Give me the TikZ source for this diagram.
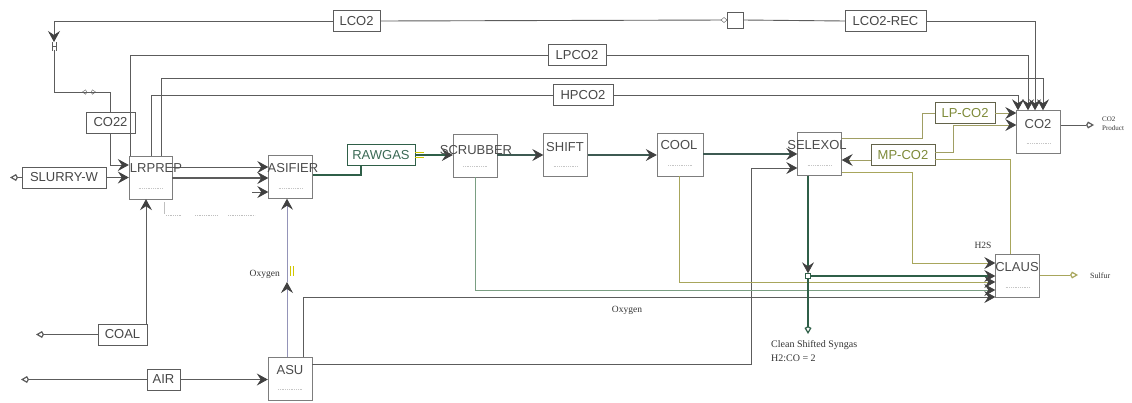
\documentclass[tikz,border=0pt]{standalone}
\usepackage{fontspec}
\setmainfont{Liberation Serif}
\setsansfont{Liberation Sans}
\usepackage{tikz}
\usetikzlibrary{positioning,arrows.meta}
\usepackage{xcolor}
\definecolor{lnGray}{HTML}{5C5C5C}
\definecolor{lnGreen}{HTML}{2F5F48}
\definecolor{lnMain}{HTML}{3E5A52}
\definecolor{lnSage}{HTML}{7A9E82}
\definecolor{lnOlive}{HTML}{A8A65C}
\definecolor{lnLilac}{HTML}{9494B8}
\definecolor{txOlive}{HTML}{7E8A38}
\definecolor{txGreen}{HTML}{3B6A55}
\tikzset{
  blk/.style={draw=lnGray!80,fill=white,minimum width=44pt,minimum height=43pt,inner sep=0pt},
  blktxt/.style={font=\sffamily\fontsize{13}{13}\selectfont,text=black!70,inner sep=0pt},
  strm/.style={draw=lnGray,fill=white,minimum height=21pt,inner xsep=4pt,inner ysep=0pt,font=\sffamily\fontsize{13}{13}\selectfont,text=black!72},
  pipe/.style={draw=lnGray,line width=0.9pt},
  note/.style={font=\fontsize{9.5}{11}\selectfont,inner sep=0pt,text=black!80},
  chev/.style={-{Stealth[length=11pt,width=12pt,inset=4pt,line width=0.8pt,color=lnGray!70!black]}},
  feed/.style={{Kite[open,length=8pt,width=7pt,line width=1.2pt]}-},
  prod/.style={-{Kite[open,length=8pt,width=7pt,line width=1.2pt]}},
}

\begin{document}
\begin{tikzpicture}[x=1pt,y=-1pt]
\useasboundingbox (0,0) rectangle (1132,402);
\node[blk,minimum width=43pt] (lrprep) at (150.5,177.5) {};
\node[blk] (gasif) at (290.5,177) {};
\node[blk] (scrub) at (475,155.5) {};
\node[blk] (shift) at (565.5,155) {};
\node[blk,minimum width=46pt] (cool) at (680,154.5) {};
\node[blk] (selexol) at (819.5,154) {};
\node[blk] (co2) at (1038.5,132) {};
\node[blk] (claus) at (1017.5,276) {};
\node[blk] (asu) at (290,378.5) {};
\foreach \b in {lrprep,gasif,scrub,shift,cool,selexol,co2,claus,asu}
  \draw[gray!45,densely dotted,line width=0.8pt] ([xshift=-12pt,yshift=-11pt]\b.center) -- ([xshift=12pt,yshift=-11pt]\b.center);

\node[strm,minimum width=47pt] (lco2) at (356.5,21) {LCO2};
\node[draw=lnGray,fill=white,minimum size=16pt,inner sep=0pt] (valve) at (735,20) {};
\node[strm,minimum width=81pt] (lco2rec) at (885.5,21) {LCO2-REC};
\node[strm,minimum width=58pt] (lpco2) at (577,55) {LPCO2};
\node[strm,minimum width=60pt] (hpco2) at (583,95) {HPCO2};
\node[strm,minimum width=49pt] (co22) at (110.5,122.5) {CO22};
\node[strm,minimum width=84pt] (slurry) at (64,177.5) {SLURRY-W};
\node[strm,minimum width=68pt,text=txGreen,draw=lnGreen] (rawgas) at (381,155) {RAWGAS};
\node[strm,minimum width=60pt,text=txOlive,draw=lnGray!80!olive] (lpbox) at (965,113) {LP-CO2};
\node[strm,minimum width=64pt,text=txOlive,draw=lnGray!80!olive] (mpbox) at (903,155) {MP-CO2};
\node[strm,minimum width=49pt] (coal) at (122.5,334.5) {COAL};
\node[strm,minimum width=33pt] (air) at (163.5,379.5) {AIR};

\coordinate (lco2in) at (54,42);
\coordinate (lco2out) at (54,50);
\coordinate (slurryin) at (10,177.5);
\coordinate (coalin) at (36,334.5);
\coordinate (airin) at (21,379.5);
\coordinate (gstub) at (252,192);
\coordinate (oxymid) at (287,282);
\coordinate (syngasout) at (808,334);
\coordinate (co2out) at (1094,125);
\coordinate (sulfout) at (1078,275);

\draw[pipe] (valve.east) -- (lco2rec.west);
\draw[pipe,chev] (lco2rec.east) -| (co2.north -| 1035,0);
\draw[pipe] (valve.west) -- (lco2.east);
\draw[pipe,chev] (lco2.west) -| (lco2in);
\draw[lnGray,line width=1pt] (52,42) -- (52,51) (56,42) -- (56,51) (52,46) -- (56,46);
\draw[pipe] (lco2out) |- (co22.north |- 0,92) -- (co22.north);
\draw[lnGray,{Kite[open,length=5pt,width=5pt]}-{Kite[open,length=5pt,width=5pt]}] (82,92) -- (96,92);
\draw[lnGray,fill=white] (727,20) -- (724,17.5) -- (721,20) -- (724,22.5) -- cycle;
\draw[pipe,chev] (co22.south) |- (lrprep.west |- 0,165);

\draw[pipe] (lrprep.north -| 130,0) |- (lpco2.west);
\draw[pipe,chev] (lpco2.east) -| (co2.north -| 1028,0);
\draw[pipe,chev] (lrprep.north -| 161,0) |- (1043,78) -- (co2.north -| 1043,0);
\draw[pipe] (lrprep.north -| 151,0) |- (hpco2.west);
\draw[pipe,chev] (hpco2.east) -| (co2.north -| 1018,0);

\draw[pipe,feed] (slurryin) -- (slurry.west);
\draw[pipe,chev] (slurry.east) -- (lrprep.west |- slurry.east);
\draw[pipe,chev] (lrprep.east |- 0,167) -- (gasif.west |- 0,167);
\draw[pipe,chev,line width=1.4pt] (lrprep.east |- 0,178) -- (gasif.west |- 0,178);
\draw[pipe,chev] (gstub) -- (gasif.west |- gstub);
\draw[gray!50,line width=0.6pt] (164,202) -- (164,214);
\draw[gray!50,densely dotted,line width=0.8pt] (166,215) -- (182,215) (195,215) -- (218,215) (228,215) -- (255,215);

\draw[pipe,feed] (coalin) -- (coal.west);
\draw[pipe,chev] (coal.north -| 146,0) -- (lrprep.south -| 146,0);
\draw[pipe,feed] (airin) -- (air.west);
\draw[pipe,chev] (air.east) -- (asu.west |- air.east);

\draw[pipe,draw=lnLilac,chev] (asu.north -| 287,0) -- (oxymid);
\draw[pipe,draw=lnLilac,chev] (oxymid) -- (gasif.south -| 287,0);
\draw[yellow!60!olive,line width=0.8pt] (290,266) -- (290,276) (293,266) -- (293,276);
\node[note,anchor=east] (oxy1) at (280,274) {Oxygen};
\draw[pipe,chev] (asu.north -| 303,0) |- (claus.west |- 0,297);
\node[note] (oxy2) at (627,310) {Oxygen};
\draw[pipe,chev] (asu.east |- 0,364) -| (751,168) -- (selexol.west |- 0,168);

\draw[pipe,draw=lnGreen,line width=1.4pt] (gasif.east |- 0,175) -| (rawgas.south -| 361,0);
\draw[pipe,draw=lnGreen,line width=1.6pt,chev] (rawgas.east) -- (scrub.west |- rawgas.east);
\draw[yellow!60!olive,line width=0.8pt] (415,152) -- (424,152) (415,157) -- (424,157);
\draw[pipe,draw=lnMain,line width=1.5pt,chev] (scrub.east |- 0,155) -- (shift.west |- 0,155);
\draw[pipe,draw=lnMain,line width=1.5pt,chev] (shift.east |- 0,155) -- (cool.west |- 0,155);
\draw[pipe,draw=lnMain,line width=1.5pt,chev] (cool.east |- 0,154) -- (selexol.west |- 0,154);

\draw[pipe,draw=lnSage,chev] (scrub.south) |- (claus.west |- 0,290);
\draw[pipe,draw=lnOlive,chev] (cool.south -| 679,0) |- (claus.west |- 0,282);
\node[draw=lnGreen,fill=white,minimum size=5pt,inner sep=0pt] (mix) at (808,276) {};
\draw[pipe,draw=lnGreen,line width=1.6pt,chev] (selexol.south -| 808,0) -- (mix.north);
\draw[pipe,draw=lnGreen,line width=1.6pt,chev] (mix.east) -- (claus.west |- mix.east);
\draw[pipe,draw=lnGreen,line width=1.2pt,prod] (mix.south) -- (syngasout);
\node[note,align=left,anchor=north west,font=\fontsize{10}{14}\selectfont] (syn) at (771,340) {Clean Shifted Syngas\\H2:CO = 2};

\draw[pipe,draw=lnOlive,chev] (selexol.east |- 0,172) -| (912,263) -- (claus.west |- 0,263);
\node[note] (h2s) at (983,245) {H2S};
\draw[pipe,draw=lnOlive!80!gray] (selexol.east |- 0,138) -| (922,113) -- (lpbox.west);
\draw[pipe,draw=lnOlive!80!gray,chev] (lpbox.east) -- (co2.west |- lpbox.east);
\draw[pipe,draw=lnOlive!80!gray,chev] (mpbox.west |- 0,160) -- (selexol.east |- 0,160);
\draw[pipe,draw=lnOlive!80!gray,chev] (mpbox.east |- 0,152) -| (953,125) -- (co2.west |- 0,125);
\draw[pipe,draw=lnOlive] (mpbox.east |- 0,159) -| (claus.north -| 1010,0);

\draw[pipe,prod] (co2.east |- 0,125) -- (co2out);
\node[note,anchor=west,align=left,font=\fontsize{7}{9}\selectfont] (co2p) at (1102,124) {CO2\\Product};
\draw[pipe,draw=lnOlive,prod] (claus.east |- 0,275) -- (sulfout);
\node[note,anchor=west,font=\fontsize{8}{9}\selectfont] (sulf) at (1090,276) {Sulfur};

\node[blktxt] (lrprep-t) at (156,168) {LRPREP};
\node[blktxt] (gasif-t) at (293,168) {ASIFIER};
\node[blktxt] (scrub-t) at (476,150) {SCRUBBER};
\node[blktxt] (shift-t) at (565,147) {SHIFT};
\node[blktxt] (cool-t) at (679,145) {COOL};
\node[blktxt] (selexol-t) at (817,145) {SELEXOL};
\node[blktxt] (co2-t) at (1038,124) {CO2};
\node[blktxt] (claus-t) at (1017,267) {CLAUS};
\node[blktxt] (asu-t) at (290,370) {ASU};
\end{tikzpicture}
\end{document}
